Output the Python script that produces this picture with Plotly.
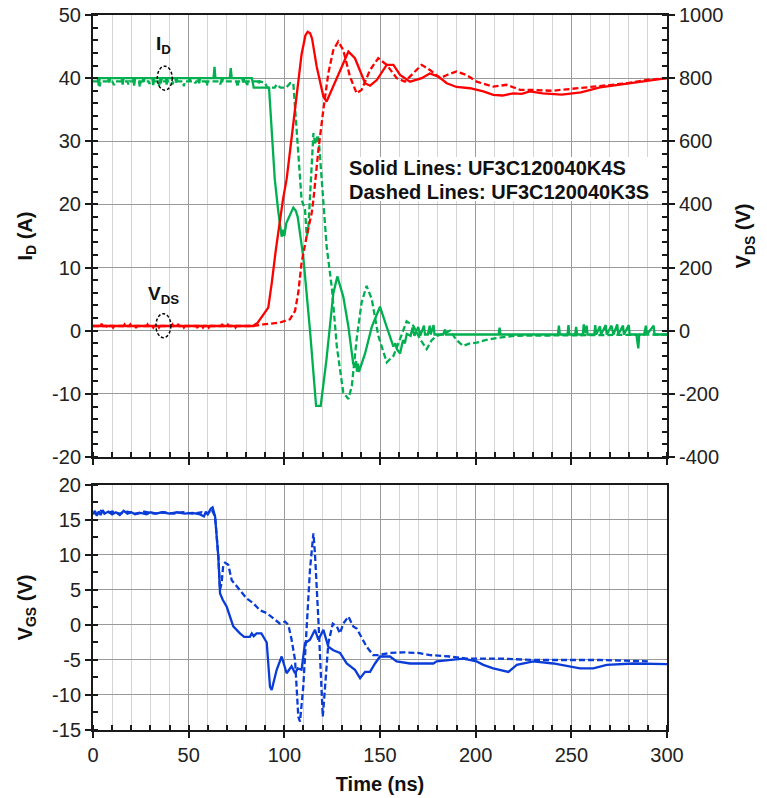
import plotly.graph_objects as go

# ---------------- data ----------------
# Drain current I_D (A), UF3C120040K4S (solid green)
t_id_k4s = [0,2.5,3,3.5,8,8.5,9,15,15.5,16,21,21.5,22,26,26.5,27,31,31.5,32,35,35.5,36,38,38.5,39,43,43.5,44,
            50,50.5,51,55,55.5,56,63,63.5,64,67,67.5,68,71.5,72,72.5,78,78.5,79,83,83.5,84,92,93.5,95,96.8,98,
            98.6,99.5,100,101,103,104.7,106,107,109.9,113.4,116.6,119,122,125.6,127.7,130.8,133.5,136,137,137.5,
            138,138.5,139,140,142.2,145.7,150,153.5,157,158,159,160.5,161.5,162,163,164,166,167,168,170,171,173,
            173.5,175,176,176.5,178,178.5,183,184,184.5,190,200,212,212.5,213,225,240,243,243.5,244,248,248.5,
            249,252,252.5,253,256,256.5,257,258,258.5,262,262.5,263,265,265.5,268,268.5,271,272,274,274.5,277,
            277.5,280,280.5,284,285,285.5,288,289,289.5,293,293.5,300]
id_k4s = [40,40,38.8,40,40,39.3,40,40,39,40,40,38.8,40,40,39.4,40,40,38.9,40,40,39.2,40,40,39,40,40,39.3,40,
          40,39.5,40,40,39.2,40,40,41.8,40,40,39.4,40,40,41.6,40,40,39.3,40,40,38.8,38.5,38.5,32,24,19,15.5,
          14.9,16,15,17,18.5,19.5,19,18,11.7,0.1,-11.9,-11.9,-4.6,5.9,8.6,5.4,0.6,-5.2,-5.8,-4.8,
          -6.5,-5.2,-6.5,-5.5,-3.6,0.6,3.8,0.6,-2.5,-2,-3,-3.6,-2.5,-1.5,-2,-0.5,-0.8,0.5,-0.8,0.6,-0.8,0.8,
          -0.6,-0.6,0.8,-0.6,0.9,-0.6,-0.6,0.2,-0.6,-0.6,-0.6,-0.6,0.5,-0.6,-0.6,-0.6,-0.6,0.8,-0.6,-0.6,0.9,
          -0.6,-0.6,0.6,-0.6,-0.6,1,-0.4,0.8,-0.6,-0.6,0.9,-0.6,0.7,-0.6,0.9,-0.6,0.8,-0.6,1,-0.6,0.8,
          -0.6,0.9,-0.6,-0.6,-2.8,-0.6,-0.6,0.8,-0.6,0.8,-0.6,-0.6]

# Drain current I_D (A), UF3C120040K3S (dashed green)
t_id_k3s = [0,3,3.5,4,10,11,12,18,18.5,19,24,24.5,25,29,29.5,30,34,34.5,35,41,41.5,42,47,47.5,48,53,53.5,54,
            59,59.5,60,66,66.5,67,75,75.5,76,80,80.5,81,86,86.5,87,90,91,95,96,98,101,103,104.7,105.6,107.3,
            109,110.8,111.7,112.5,113.5,114.5,115.2,116.2,116.9,117.5,118.3,119.5,122.1,124.9,127.4,130.8,
            133.5,135.3,137.8,140.4,143,145.7,149.1,153.5,157,160.5,163.9,167.4,170.9,174.4,177,179.6,183,
            186.6,190,193.5,197,200.5,205,210,220,300]
id_k3s = [39.5,39.5,38.7,39.5,39.5,38.9,39.5,39.5,39,39.5,39.5,38.6,39.5,39.5,39.1,39.5,39.5,38.8,39.5,39.5,
          39,39.5,39.5,38.7,39.5,39.5,39.2,39.5,39.5,38.8,39.5,39.5,39,39.5,39.5,38.6,39.5,39.5,38.7,39.5,
          39.5,39,39.5,39.2,38.5,38.5,39,38.5,38.5,39.2,39.2,35,28.7,20.8,19.2,15,16,22,28,31.3,29.5,30.3,
          31,29,23.9,13.4,6.6,-2.4,-9.8,-10.8,-8.7,-1.3,4.5,7.1,5,-0.8,-5,-4,-1.3,1.5,0.8,-1.3,-2.9,-1.5,
          -0.8,-0.5,0,-1.5,-2.4,-2,-1.9,-1.5,-1.2,-0.8,-0.6]

# Drain-source voltage V_DS (V), UF3C120040K4S (solid red)
t_vds_k4s = [0,4,4.5,5,10,10.5,11,16,16.5,17,22,22.5,23,28,28.5,29,34,34.5,35,41,41.5,42,47,47.5,48,54,54.5,
             55,60,60.5,61,67,67.5,68,74,74.5,75,83.6,86,89.9,91.6,93.4,95.6,99.3,101.2,103,106,109,111,
             112.2,113.5,114.5,116.9,120.4,122.1,125.6,130,133.5,136.9,139.6,142.2,144.8,148.3,153.5,157,
             160.5,165.7,171.8,176,180.5,184.9,190,197,204,209.2,214,219.6,224,228.4,235,245,255,265,282,300]
vds_k4s = [15,15,22,15,15,10,15,15,20,15,15,9,15,15,20,15,15,10,15,15,20,15,15,10,15,15,9,
           15,15,10,15,15,21,15,15,10,15,15,25,60,73,150,258,416,480,570,725,875,935,
           947,942,925,837,742,726,774,837,884,863,821,784,776,794,842,842,
           810,789,800,815,805,784,772,768,758,747,745,752,750,758,752,748,755,771,785,800]

# Drain-source voltage V_DS (V), UF3C120040K3S (dashed red)
t_vds_k3s = [0,7,7.5,8,19,19.5,20,31,31.5,32,44,44.5,45,57,57.5,58,70,70.5,71,84,89,97.7,102.9,105.6,107.3,
             109,111.7,114.3,115.2,117.8,120.4,123,125.6,128.2,130.8,134.3,137.8,140.4,144.8,149.1,153.5,
             158.7,163,167.4,171.8,176.1,181.4,185,190,195.3,200.5,209.2,216.2,223.2,228.4,240,250,260,270,
             280,290,300]
vds_k3s = [15,15,10,15,15,20,15,15,10,15,15,21,15,15,10,15,15,19,15,15,20,26,36,63,121,
           215,300,373,415,573,700,816,889,916,889,805,752,763,826,863,842,
           800,789,815,842,826,800,810,821,810,789,773,779,763,763,760,765,772,778,
           785,795,800]

# Gate-source voltage V_GS (V), UF3C120040K4S (solid blue)
t_vgs_k4s = [0,1,2,3,4,5,6,8,10,12,14,16,18,20,22,25,28,30,33,36,40,44,48,52,56,58,59,60,61.5,62.5,63.8,65.5,
             66.4,67.8,69.9,73.3,76.8,79,82,83,84,85.5,88,90.8,92.5,93.4,96,98.6,101.2,103.8,105.6,107,109,
             110.8,113.4,116,117.8,120.4,123,125.6,129.1,132.6,136.9,139.6,142.2,144.8,147.4,150,155.2,158.7,
             165.7,172.6,177.9,179.6,186.6,193.5,200.5,204,209.2,217.1,221.5,230.1,240.6,247.6,254.5,261.5,
             268.5,282.4,300]
vgs_k4s = [15.8,16.3,15.6,16.2,15.7,16.4,15.9,16.2,15.8,16.1,15.7,16.3,15.9,16.1,15.8,16,15.8,16.1,15.9,16.1,
           15.9,16.1,15.9,16,15.8,15.5,16.2,15.8,16.6,16.8,15.5,9.8,4.5,3.6,2.6,-0.2,-1.2,-1.7,-1.7,-1.2,-1.6,
           -1.2,-1.2,-2.5,-8.8,-9.3,-6.4,-4.5,-6.9,-5.9,-6.9,-6.2,-6.4,-2.6,-2.1,-0.7,-2.1,-0.7,-3.1,-3.6,
           -4,-5.5,-6.4,-7.6,-6.7,-6.7,-5.5,-4.5,-4.5,-5.2,-5.5,-5.5,-5.5,-5.2,-5,-4.8,-5.2,-5.7,-6.2,-6.7,
           -5.7,-5.2,-5.5,-5.9,-6.2,-6.2,-5.7,-5.5,-5.6]

# Gate-source voltage V_GS (V), UF3C120040K3S (dashed blue)
t_vgs_k3s = [0,2,4,7,10,14,18,22,27,32,37,42,47,52,57,60,62,63.8,65.5,66.4,67.2,68.1,69,70.7,72.5,76.8,80.3,
             83.8,87.3,90.8,94.2,97.7,100.4,102.1,103.8,105.6,107.3,108.2,109.9,111.7,113.4,115.2,116,117.8,
             119,120.1,121.3,123,125.3,127.4,129.1,130.8,133.5,136,137.8,140.4,143,146.5,149.1,155.2,162.2,
             170,176.1,186.6,195.3,200.5,212.7,230,265,290]
vgs_k3s = [16.1,15.8,16.3,15.9,16.2,15.9,16.2,15.9,16.2,15.9,16.1,15.9,16.1,15.9,16.1,15.9,16.5,15.5,9.8,5,6,
           8.6,8.9,8.6,6.4,5,3.8,3.1,2.1,1.7,1,0.2,0.5,0,-2.1,-5,-13.1,-13.8,-8.8,0.7,7.9,13.1,10.2,0.7,
           -6.4,-13.1,-8.8,-2.6,0.2,-0.2,-1.2,0.2,1.2,-0.2,-0.5,-1.7,-3.1,-4.3,-4.3,-4,-3.9,-4,-4.3,-4.5,
           -4.8,-4.8,-4.8,-5,-5,-5.2]

# tick values / labels
x_ticks = [0, 50, 100, 150, 200, 250, 300]
id_ticks = [-20, -10, 0, 10, 20, 30, 40, 50]
vds_ticks = [-400, -200, 0, 200, 400, 600, 800, 1000]
vgs_ticks = [-15, -10, -5, 0, 5, 10, 15, 20]
id_ticktext = ["-20", "-10", "0", "10", "20", "30", "40", "50"]
vds_ticktext = ["-400", "-200", "0", "200", "400", "600", "800", "1000"]
vgs_ticktext = ["-15", "-10", "-5", "0", "5", "10", "15", "20"]
legend_lines = ["Solid Lines: UF3C120040K4S", "Dashed Lines: UF3C120040K3S"]

# ---------------- styling ----------------
GREEN = "#00b050"
RED = "#ff0000"
BLUE = "#0a3cd8"
FONT = "Liberation Sans, Arial, sans-serif"
AXC = "#1a1a1a"
MAJ_GRID = "#9a9a9a"
MIN_GRID = "#d4d4d4"
LW = 2.3
DASH = "6px,3px"

fig = go.Figure()
fig.add_trace(go.Scatter(x=t_id_k4s, y=id_k4s, mode="lines", line=dict(color=GREEN, width=LW),
                         xaxis="x", yaxis="y", showlegend=False))
fig.add_trace(go.Scatter(x=t_id_k3s, y=id_k3s, mode="lines", line=dict(color=GREEN, width=LW, dash=DASH),
                         xaxis="x", yaxis="y", showlegend=False))
fig.add_trace(go.Scatter(x=t_vds_k4s, y=vds_k4s, mode="lines", line=dict(color=RED, width=LW),
                         xaxis="x", yaxis="y2", showlegend=False))
fig.add_trace(go.Scatter(x=t_vds_k3s, y=vds_k3s, mode="lines", line=dict(color=RED, width=LW, dash=DASH),
                         xaxis="x", yaxis="y2", showlegend=False))
fig.add_trace(go.Scatter(x=t_vgs_k4s, y=vgs_k4s, mode="lines", line=dict(color=BLUE, width=LW),
                         xaxis="x2", yaxis="y3", showlegend=False))
fig.add_trace(go.Scatter(x=t_vgs_k3s, y=vgs_k3s, mode="lines", line=dict(color=BLUE, width=LW, dash=DASH),
                         xaxis="x2", yaxis="y3", showlegend=False))

tickfont = dict(family=FONT, size=20, color="#222222")
titlefont = dict(family=FONT, size=20, color="#111111")

def xaxis_common(show_labels):
    return dict(range=[0, 300], tickvals=x_ticks, showticklabels=show_labels, tickfont=tickfont,
                showline=True, linecolor=AXC, linewidth=2, mirror=True, automargin=False,
                ticks="outside", ticklen=6, tickwidth=2, tickcolor=AXC,
                showgrid=True, gridcolor=MAJ_GRID, gridwidth=1, zeroline=False,
                minor=dict(dtick=10, showgrid=True, gridcolor=MIN_GRID, gridwidth=1,
                           ticks="inside", ticklen=5, tickwidth=1.5, tickcolor=AXC))

top_dom = [0.3818, 1.0]
bot_dom = [0.0, 0.3427]

fig.update_layout(
    width=767, height=798,
    margin=dict(l=93, r=100, t=15, b=68),
    paper_bgcolor="white", plot_bgcolor="white",
    font=dict(family=FONT, size=20, color="#222222"),
    xaxis=dict(**xaxis_common(False), anchor="y", domain=[0, 1]),
    yaxis=dict(domain=top_dom, anchor="x", range=[-20, 50], tickvals=id_ticks, ticktext=id_ticktext,
               tickfont=tickfont, automargin=False,
               showline=True, linecolor=AXC, linewidth=2, mirror=False,
               ticks="outside", ticklen=6, tickwidth=2, tickcolor=AXC,
               showgrid=True, gridcolor=MAJ_GRID, gridwidth=1, zeroline=False,
               minor=dict(dtick=2, ticks="inside", ticklen=5, tickwidth=1.5, tickcolor=AXC, showgrid=False),
               title=dict(text="<b>I<sub>D</sub> (A)</b>", font=titlefont, standoff=14)),
    yaxis2=dict(overlaying="y", side="right", anchor="x", range=[-400, 1000], tickvals=vds_ticks,
                ticktext=vds_ticktext, tickfont=tickfont, automargin=False,
                showline=True, linecolor=AXC, linewidth=2,
                ticks="outside", ticklen=6, tickwidth=2, tickcolor=AXC,
                showgrid=False, zeroline=False,
                minor=dict(dtick=40, ticks="inside", ticklen=5, tickwidth=1.5, tickcolor=AXC, showgrid=False),
                title=dict(text="<b>V<sub>DS</sub> (V)</b>", font=titlefont, standoff=14)),
    xaxis2=dict(**xaxis_common(True), anchor="y3", domain=[0, 1],
                title=dict(text="<b>Time (ns)</b>", font=titlefont, standoff=12)),
    yaxis3=dict(domain=bot_dom, anchor="x2", range=[-15, 20], tickvals=vgs_ticks, ticktext=vgs_ticktext,
                tickfont=tickfont, automargin=False,
                showline=True, linecolor=AXC, linewidth=2, mirror=True,
                ticks="outside", ticklen=6, tickwidth=2, tickcolor=AXC,
                showgrid=True, gridcolor=MAJ_GRID, gridwidth=1, zeroline=False,
                minor=dict(dtick=2.5, ticks="inside", ticklen=5, tickwidth=1.5, tickcolor=AXC, showgrid=False),
                title=dict(text="<b>V<sub>GS</sub> (V)</b>", font=titlefont, standoff=14)),
)

# white box behind the line-style note
fig.add_shape(type="rect", xref="x", yref="y", x0=131, x1=297, y0=20.5, y1=27.5,
              fillcolor="white", line=dict(width=0), layer="between")
# dashed ellipses marking the curves
fig.add_shape(type="circle", xref="x", yref="y", x0=33.6, x1=41.4, y0=38.1, y1=41.9,
              line=dict(color="black", width=1.5, dash="3px,2px"), layer="above")
fig.add_shape(type="circle", xref="x", yref="y", x0=32.9, x1=40.7, y0=-1.1, y1=2.7,
              line=dict(color="black", width=1.5, dash="3px,2px"), layer="above")

boldf = dict(family=FONT, size=20, color="#111111")
fig.add_annotation(x=36.6, y=45.3, xref="x", yref="y", text="<b>I<sub>D</sub></b>", showarrow=False,
                   font=dict(family=FONT, size=19, color="#111111"))
fig.add_annotation(x=37.0, y=5.6, xref="x", yref="y", text="<b>V<sub>DS</sub></b>", showarrow=False,
                   font=dict(family=FONT, size=19, color="#111111"))
fig.add_annotation(x=132.8, y=25.8, xref="x", yref="y", text="<b>%s</b>" % legend_lines[0], showarrow=False,
                   xanchor="left", font=boldf)
fig.add_annotation(x=132.8, y=22.0, xref="x", yref="y", text="<b>%s</b>" % legend_lines[1], showarrow=False,
                   xanchor="left", font=boldf)

fig.write_html("out.html")
